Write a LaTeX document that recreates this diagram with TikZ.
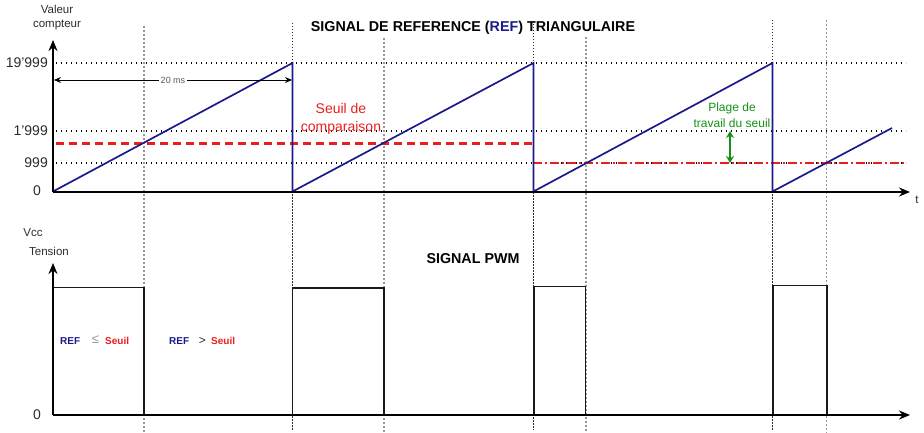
\documentclass[tikz,border=0pt]{standalone}
\usepackage{fontspec}
\setmainfont{Liberation Sans}
\usetikzlibrary{arrows.meta}
\definecolor{navy}{RGB}{26,26,140}
\definecolor{sred}{RGB}{235,30,30}
\definecolor{sgreen}{RGB}{20,145,20}
\definecolor{txtgray}{RGB}{45,45,45}
\definecolor{vgray}{RGB}{150,150,150}
\tikzset{
  axis/.style={line width=2.7pt,black,-{Stealth[length=11pt,width=9pt]}},
  hdot/.style={black,line width=1.4pt,dash pattern=on 1.4pt off 3.6pt},
  vdark/.style={txtgray,line width=1pt,dash pattern=on 1.5pt off 1.5pt},
  vlight/.style={vgray,line width=1.4pt,dash pattern=on 2pt off 2pt},
  saw/.style={navy,line width=1.7pt},
  pulse/.style={black!90,line width=1.9pt},
  lbl/.style={inner sep=0pt,text=txtgray},
  big/.style={font=\fontsize{14}{18}\selectfont},
  small/.style={font=\fontsize{11.5}{14}\selectfont},
  ttl/.style={font=\bfseries\fontsize{14.3}{16}\selectfont,inner sep=0pt},
  cmp/.style={font=\bfseries\fontsize{10}{12}\selectfont,inner sep=0pt},
}
\begin{document}
\begin{tikzpicture}[x=1pt,y=-1pt]
\useasboundingbox[fill=white] (0,0) rectangle (924,433);

% vertical guide lines
\draw[vlight] (144,26) -- (144,433);
\draw[vdark]  (292.5,23) -- (292.5,430);
\draw[vlight] (384,38) -- (384,433);
\draw[vdark]  (533.5,21) -- (533.5,430);
\draw[vlight] (586,37) -- (586,433);
\draw[vdark]  (772.5,20) -- (772.5,430);
\draw[vlight] (826.5,20) -- (826.5,433);

% horizontal dotted levels
\draw[hdot] (56,63) -- (906,63);
\draw[hdot] (56,131) -- (906,131);
\draw[hdot] (56,163) -- (906,163);

% thresholds
\draw[sred,line width=2.6pt,dash pattern=on 8pt off 5pt] (56,143.5) -- (533,143.5);
\draw[sred,line width=2.6pt,dash pattern=on 9pt off 3pt on 2pt off 3pt] (533,163) -- (906,163);

% sawtooth
\draw[saw,line join=miter] (53,191.5) -- (292.5,63) -- (292.5,191.5) -- (533.5,63) -- (533.5,191.5) -- (772.5,63) -- (772.5,191.5) -- (892,128);

% top axes
\coordinate (o1) at (53,192);
\coordinate (ytop1) at (53,40);
\coordinate (xend1) at (910,192);
\draw[axis] (o1) -- (ytop1);
\draw[axis] (o1) -- (xend1);

% 20 ms arrow
\coordinate (ms1) at (54,80);
\coordinate (ms2) at (292,80);
\draw[black,line width=0.8pt,{Stealth[length=7pt,width=6pt]}-{Stealth[length=7pt,width=6pt]}] (ms1) -- node[fill=white,inner sep=1.5pt,text=vgray!60!black,font=\fontsize{9}{10}\selectfont] (ms) {20 ms} (ms2);

% green range arrow
\coordinate (g1) at (730,131);
\coordinate (g2) at (730,163);
\draw[sgreen,line width=2.2pt,{Stealth[length=7pt,width=8pt]}-{Stealth[length=7pt,width=8pt]}] (g1) -- (g2);

% top labels
\node[lbl,small,align=center] (valeur) at (57,17.5) {Valeur\\compteur};
\node[lbl,big,anchor=east] (l19999) at (48,63) {19'999};
\node[lbl,big,anchor=east] (l1999) at (48,131) {1'999};
\node[lbl,big,anchor=east] (l999) at (48,163) {999};
\node[lbl,big] (l0a) at (37,191) {0};
\node[lbl,small] (t) at (917,200) {t};
\node[ttl] (title) at (473,28) {SIGNAL DE REFERENCE ({\color{navy}REF}) TRIANGULAIRE};
\node[lbl,big,align=center,text=sred] (seuil) at (341,119) {Seuil de\\comparaison};
\node[lbl,align=center,text=sgreen,font=\fontsize{12}{16}\selectfont] (plage) at (732,115) {Plage de\\travail du seuil};

% bottom axes
\coordinate (o2) at (53,415);
\coordinate (ytop2) at (53,263);
\coordinate (xend2) at (910,415);

% pulses
\draw[pulse] (53,287.5) -- (144,287.5) -- (144,415);
\draw[pulse] (292.5,415) -- (292.5,288) -- (384,288) -- (384,415);
\draw[pulse] (534,415) -- (534,286.5) -- (585.5,286.5) -- (585.5,415);
\draw[pulse] (773,415) -- (773,285.5) -- (827,285.5) -- (827,415);

\draw[axis] (o2) -- (ytop2);
\draw[axis] (o2) -- (xend2);

% bottom labels
\node[lbl,small] (vcc) at (33,233) {Vcc};
\node[lbl,small] (tension) at (49,251) {Tension};
\node[lbl,big] (l0b) at (37,415) {0};
\node[ttl] (pwm) at (473,259) {SIGNAL PWM};

\node[cmp,text=navy,anchor=west] (ref1) at (60,341) {REF};
\node[inner sep=0pt,text=vgray,font=\fontsize{13}{14}\selectfont] (le) at (95.5,340) {≤};
\node[cmp,text=sred,anchor=west] (seuil1) at (105,341) {Seuil};
\node[cmp,text=navy,anchor=west] (ref2) at (169,341) {REF};
\node[inner sep=0pt,text=txtgray,font=\fontsize{12}{13}\selectfont] (gt) at (202.5,341) {>};
\node[cmp,text=sred,anchor=west] (seuil2) at (211,341) {Seuil};
\end{tikzpicture}
\end{document}
